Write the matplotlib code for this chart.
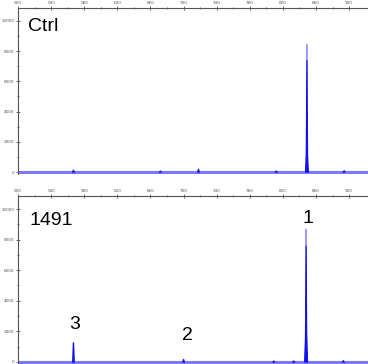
import matplotlib
matplotlib.use("Agg")
import matplotlib.pyplot as plt
import numpy as np

# Data
xticks = [500, 540, 580, 620, 660, 700, 740, 780, 820, 860, 900]
yticks = [0, 2000, 4000, 6000, 8000, 10000]

ctrl_peak_x = [567, 672, 718, 812, 894]
ctrl_peak_h = [120, 60, 180, 60, 80]
ctrl_main_x = [849, 849, 849]
ctrl_main_h = [8450, 7400, 1600]
ctrl_main_w = [0.6, 1.0, 1.8]

s1491_peak_x = [567, 700, 809, 833, 893]
s1491_peak_h = [1250, 160, 60, 60, 80]
s1491_main_x = [848, 848, 848]
s1491_main_h = [8700, 7600, 2400]
s1491_main_w = [0.6, 1.0, 1.8]

labels_1491 = ["1", "2", "3"]
labels_1491_x = [850, 705, 569]
labels_1491_y = [9400, 1750, 2450]

W, H = 368, 364
fig = plt.figure(figsize=(W / 100, H / 100), dpi=100)

def px_axes(top_px, bot_px):
    left = 18 / W
    return [left, 1 - bot_px / H, 1.005 - left, (bot_px - top_px) / H]

base_col = "#7a7aff"
peak_col = "#1010f0"

def draw(ax, px, ph, mx, mh, mw, ymin):
    ax.set_xlim(500, 925)
    ax.set_ylim(ymin, 10850)
    ax.plot([500, 925], [0, 0], color=base_col, lw=2.2, solid_capstyle="butt", zorder=2)
    for x, h in zip(px, ph):
        ax.plot([x - 0.9, x, x + 0.9], [0, h, 0], color=peak_col, lw=1.0, zorder=3)
    for x, h, w in zip(mx, mh, mw):
        col = "#9a9aff" if w < 0.8 else peak_col
        ax.fill([x - w, x, x + w], [0, h, 0], color=col, lw=0.8, ec=col, zorder=3)
    for s in ["bottom", "right"]:
        ax.spines[s].set_visible(False)
    for s in ["top", "left"]:
        ax.spines[s].set_color("#555555")
        ax.spines[s].set_linewidth(0.8)
    ax.xaxis.tick_top()
    ax.set_xticks(xticks)
    ax.set_xticklabels([str(v) for v in xticks])
    ax.set_xticks(np.array(xticks[:-1]) + 20, minor=True)
    ax.set_yticks(yticks)
    ax.set_yticklabels([str(v) for v in yticks])
    ax.set_yticks(np.array(yticks[:-1]) + 1000, minor=True)
    ax.tick_params(axis="both", which="both", direction="inout", colors="#555555",
                   labelsize=3, length=3, width=0.6, pad=1)
    ax.tick_params(axis="both", which="minor", length=2)
    ax.set_facecolor("white")

ax1 = fig.add_axes(px_axes(8, 174.3))
draw(ax1, ctrl_peak_x, ctrl_peak_h, ctrl_main_x, ctrl_main_h, ctrl_main_w, -150)
ax1.text(512, 9600, "Ctrl", fontsize=14, family="Liberation Sans", va="center", ha="left")

ax2 = fig.add_axes(px_axes(196, 363.5))
draw(ax2, s1491_peak_x, s1491_peak_h, s1491_main_x, s1491_main_h, s1491_main_w, -100)
ax2.text(514, 9280, "1491", fontsize=14, family="Liberation Sans", va="center", ha="left")
for t, x, y in zip(labels_1491, labels_1491_x, labels_1491_y):
    ax2.text(x, y, t, fontsize=14, family="Liberation Sans", va="center", ha="center")

fig.savefig("out.png", dpi=100)
